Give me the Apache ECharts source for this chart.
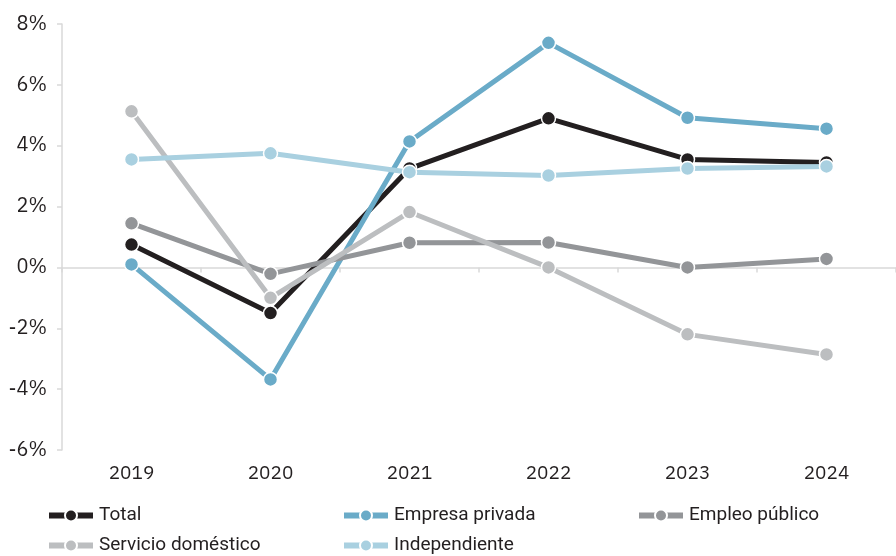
<!DOCTYPE html>
<html><head><meta charset="utf-8">
<script src="https://cdn.jsdelivr.net/npm/echarts@6/dist/echarts.min.js"></script>
<style>html,body{margin:0;padding:0;background:#fff}#c{width:896px;height:556px}</style>
</head><body><div id="c"></div>
<script>
var categories = ['2019','2020','2021','2022','2023','2024'];
var seriesNames = ['Total','Empresa privada','Empleo público','Servicio doméstico','Independiente'];
var total = [0.75, -1.5, 3.25, 4.9, 3.55, 3.45];
var empresaPrivada = [0.1, -3.68, 4.14, 7.38, 4.92, 4.56];
var empleoPublico = [1.45, -0.21, 0.81, 0.82, 0.0, 0.28];
var servicioDomestico = [5.13, -1.0, 1.82, 0.0, -2.2, -2.86];
var independiente = [3.55, 3.75, 3.13, 3.02, 3.25, 3.32];
var yTicks = [-6, -4, -2, 0, 2, 4, 6, 8];

var colors = ['#231f20', '#6aabc8', '#939598', '#bcbec0', '#a9d0e0'];
var values = [total, empresaPrivada, empleoPublico, servicioDomestico, independiente];
var font = 'IBM Plex Sans, Noto Sans, sans-serif';
var legendFont = 'Roboto, sans-serif';

var series = seriesNames.map(function (n, i) {
  return {
    name: n, type: 'line', data: values[i], xAxisIndex: 0,
    symbol: 'circle', symbolSize: 14,
    lineStyle: { color: colors[i], width: 5 },
    itemStyle: { color: colors[i], borderColor: '#fff', borderWidth: 1.5 },
    z: 2 + i, animation: false
  };
});
var legendPos = [[46, 506], [341, 506], [636, 506], [46, 536], [341, 536]];
var legends = seriesNames.map(function (n, i) {
  return {
    data: [n], left: legendPos[i][0], top: legendPos[i][1],
    itemWidth: 44, itemHeight: 15, itemGap: 0, padding: 0,
    lineStyle: { width: 6 },
    textStyle: { fontFamily: legendFont, fontSize: 19, color: '#231f20', padding: [0,0,0,1] },
    selectedMode: false
  };
});

var chart = echarts.init(document.getElementById('c'));
chart.setOption({
  backgroundColor: '#fff',
  animation: false,
  grid: { left: 62, right: 0, top: 24, bottom: 106 },
  legend: legends,
  xAxis: [{
    type: 'category', data: categories, position: 'top', boundaryGap: true,
    axisLine: { onZero: true, lineStyle: { color: '#d9d9d9', width: 1.5 } },
    axisTick: { show: true, inside: true, length: 5, lineStyle: { color: '#d9d9d9', width: 1.5 } },
    axisLabel: { show: false }
  }, {
    type: 'category', data: categories, position: 'bottom', boundaryGap: true,
    axisLine: { show: false, onZero: false }, axisTick: { show: false },
    axisLabel: { margin: 14, fontFamily: font, fontSize: 19, color: '#231f20' }
  }],
  yAxis: {
    type: 'value', min: yTicks[0], max: yTicks[yTicks.length - 1], interval: 2,
    splitLine: { show: false },
    axisLine: { show: true, lineStyle: { color: '#d9d9d9', width: 1.5 } },
    axisTick: { show: true, length: 5, lineStyle: { color: '#d9d9d9', width: 1.5 } },
    axisLabel: { margin: 15, fontFamily: font, fontSize: 20, color: '#231f20', formatter: '{value}%' }
  },
  series: series
});
</script></body></html>
